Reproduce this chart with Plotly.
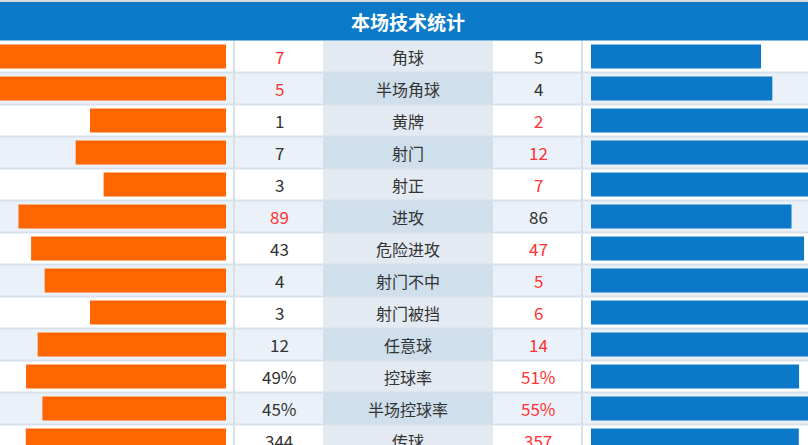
import plotly.graph_objects as go

# ---- data ----
categories = ["角球", "半场角球", "黄牌", "射门", "射正", "进攻", "危险进攻",
              "射门不中", "射门被挡", "任意球", "控球率", "半场控球率", "传球"]
home_values = [7, 5, 1, 7, 3, 89, 43, 4, 3, 12, 49, 45, 344]
away_values = [5, 4, 2, 12, 7, 86, 47, 5, 6, 14, 51, 55, 357]
units = ["", "", "", "", "", "", "", "", "", "", "%", "%", ""]
title = "本场技术统计"

# ---- layout constants (pixels) ----
W, H = 808, 445
PLOT_TOP = 40.5
ROW_H = 32
BAR_FULL = 408.0          # pixel width of a 100% share bar
LEFT_BAR_END = 226
RIGHT_BAR_START = 591
COL_HOME_VAL = 279
COL_LABEL = 408
COL_AWAY_VAL = 538
LABEL_X0, LABEL_X1 = 323, 493

ORANGE = "#ff6600"
BLUE = "#0b78c8"
HEADER = "#0c7ac9"
RED = "#ff3333"
DARK = "#333333"
FONT = "Noto Sans CJK SC"

n = len(categories)
rows = list(range(n))
home_share = [h / (h + a) for h, a in zip(home_values, away_values)]
away_share = [a / (h + a) for h, a in zip(home_values, away_values)]

fig = go.Figure()
fig.add_trace(go.Bar(y=rows, x=home_share, orientation="h", width=0.75,
                     marker=dict(color=ORANGE, line=dict(width=0)),
                     xaxis="x", yaxis="y", hoverinfo="skip"))
fig.add_trace(go.Bar(y=rows, x=away_share, orientation="h", width=0.75,
                     marker=dict(color=BLUE, line=dict(width=0)),
                     xaxis="x2", yaxis="y", hoverinfo="skip"))

def py(p):  # pixel y -> paper y
    return 1 - p / H

def px(p):  # pixel x -> paper x
    return p / W

y_bottom = -0.5 + (H - PLOT_TOP) / ROW_H

shapes = []
for i in rows:
    even = i % 2 == 1
    shapes.append(dict(type="rect", xref="paper", yref="y", x0=0, x1=1,
                       y0=i - 0.5, y1=i + 0.5, layer="below", line_width=0,
                       fillcolor="#eaf1f8" if even else "#ffffff"))
    shapes.append(dict(type="rect", xref="paper", yref="y", x0=px(LABEL_X0), x1=px(LABEL_X1),
                       y0=i - 0.5, y1=i + 0.5, layer="below", line_width=0,
                       fillcolor="#cfdfec" if even else "#e3eaf2"))
for i in rows:
    shapes.append(dict(type="line", xref="paper", yref="y", x0=0, x1=1,
                       y0=i + 0.5, y1=i + 0.5, layer="below",
                       line=dict(color="#d8e1ea", width=2)))
for xv in (234, 582):
    shapes.append(dict(type="line", xref="paper", yref="paper", x0=px(xv), x1=px(xv),
                       y0=0, y1=py(PLOT_TOP), layer="below",
                       line=dict(color="#d8e1ea", width=2)))
# header
shapes.append(dict(type="rect", xref="paper", yref="paper", x0=0, x1=1,
                   y0=py(2), y1=1, line_width=0, fillcolor="#dcdcdc"))
shapes.append(dict(type="rect", xref="paper", yref="paper", x0=0, x1=1,
                   y0=py(40.5), y1=py(2), line_width=0, fillcolor=HEADER))

annotations = [dict(text="<b>" + title + "</b>", xref="paper", yref="paper",
                    x=px(COL_LABEL), y=py(21.5), xanchor="center", yanchor="middle",
                    showarrow=False,
                    font=dict(family=FONT, size=19, color="#ffffff"))]
for i, (cat, h, a, u) in enumerate(zip(categories, home_values, away_values, units)):
    hc = RED if h > a else DARK
    ac = RED if a > h else DARK
    annotations.append(dict(text=f"{h}{u}", xref="paper", yref="y", x=px(COL_HOME_VAL), y=i,
                            yanchor="middle", showarrow=False,
                            font=dict(family=FONT, size=17, color=hc)))
    annotations.append(dict(text=cat, xref="paper", yref="y", x=px(COL_LABEL), y=i,
                            yanchor="middle", showarrow=False,
                            font=dict(family=FONT, size=16, color=DARK)))
    annotations.append(dict(text=f"{a}{u}", xref="paper", yref="y", x=px(COL_AWAY_VAL), y=i,
                            yanchor="middle", showarrow=False,
                            font=dict(family=FONT, size=17, color=ac)))

fig.update_layout(
    width=W, height=H,
    margin=dict(l=0, r=0, t=0, b=0),
    paper_bgcolor="#ffffff", plot_bgcolor="rgba(0,0,0,0)",
    showlegend=False, barmode="overlay",
    xaxis=dict(domain=[0, px(LEFT_BAR_END)], range=[LEFT_BAR_END / BAR_FULL, 0],
               visible=False, fixedrange=True),
    xaxis2=dict(domain=[px(RIGHT_BAR_START), 1], range=[0, (W - RIGHT_BAR_START) / BAR_FULL],
                visible=False, fixedrange=True),
    yaxis=dict(domain=[0, py(PLOT_TOP)], range=[y_bottom, -0.5], visible=False,
               fixedrange=True),
    shapes=shapes, annotations=annotations,
)

fig.write_html("out.html", config={"displayModeBar": False})
